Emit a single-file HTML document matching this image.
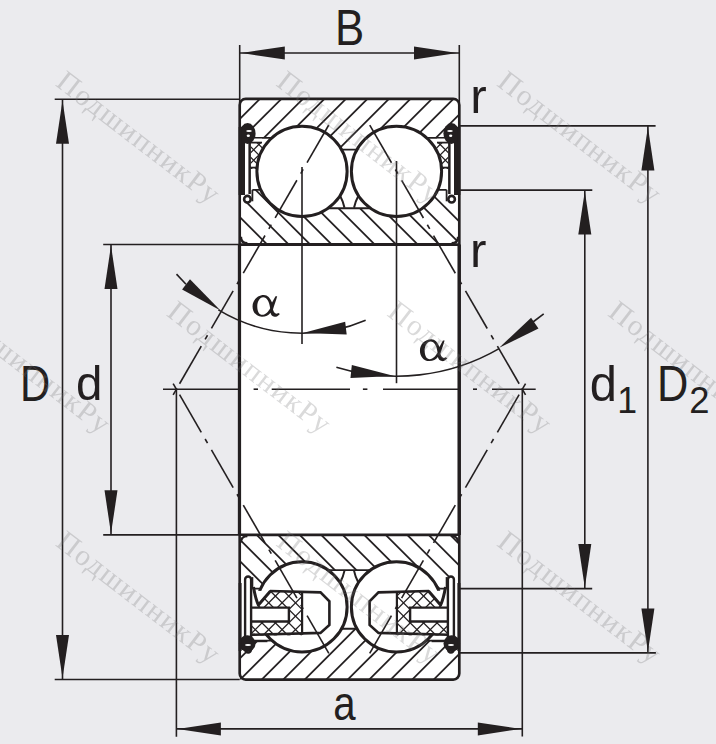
<!DOCTYPE html>
<html><head><meta charset="utf-8"><style>html,body{margin:0;padding:0;background:#ebebee;}svg{display:block}</style></head>
<body><svg width="716" height="744" viewBox="0 0 716 744">
<rect x="0" y="0" width="716" height="744" fill="#ebebee"/>
<rect x="239.7" y="98.9" width="219.6" height="580.7" rx="6" fill="#fff"/>
<defs>
<clipPath id="cto"><path d="M239.7,98.9 H459.3 V137.8 H239.7 Z M330,136.8 H368 V149.6 H330 Z"/></clipPath>
<clipPath id="cti"><path d="M239.7,201.3 H252.4 V189.8 H300 V208.3 H398 V189.8 H446.6 V201.3 H459.3 V244.5 H239.7 Z"/></clipPath>
<clipPath id="cbi"><path d="M239.7,534.9 H459.3 V577.0999999999999 H446.6 V588.5999999999999 H398 V570.0999999999999 H300 V588.5999999999999 H252.4 V577.0999999999999 H239.7 Z"/></clipPath>
<clipPath id="cbo"><path d="M239.7,640.5999999999999 H459.3 V679.6 H239.7 Z M330,628.8 H368 V641.5999999999999 H330 Z"/></clipPath>
</defs>
<g clip-path="url(#cto)">
<line x1="225.8" y1="90" x2="-374.2" y2="690" stroke="#231f20" stroke-width="1.75" stroke-linecap="butt"/>
<line x1="247.3" y1="90" x2="-352.7" y2="690" stroke="#231f20" stroke-width="1.75" stroke-linecap="butt"/>
<line x1="268.8" y1="90" x2="-331.2" y2="690" stroke="#231f20" stroke-width="1.75" stroke-linecap="butt"/>
<line x1="290.3" y1="90" x2="-309.7" y2="690" stroke="#231f20" stroke-width="1.75" stroke-linecap="butt"/>
<line x1="311.8" y1="90" x2="-288.2" y2="690" stroke="#231f20" stroke-width="1.75" stroke-linecap="butt"/>
<line x1="333.3" y1="90" x2="-266.7" y2="690" stroke="#231f20" stroke-width="1.75" stroke-linecap="butt"/>
<line x1="354.8" y1="90" x2="-245.2" y2="690" stroke="#231f20" stroke-width="1.75" stroke-linecap="butt"/>
<line x1="376.3" y1="90" x2="-223.7" y2="690" stroke="#231f20" stroke-width="1.75" stroke-linecap="butt"/>
<line x1="397.8" y1="90" x2="-202.2" y2="690" stroke="#231f20" stroke-width="1.75" stroke-linecap="butt"/>
<line x1="419.3" y1="90" x2="-180.7" y2="690" stroke="#231f20" stroke-width="1.75" stroke-linecap="butt"/>
<line x1="440.8" y1="90" x2="-159.2" y2="690" stroke="#231f20" stroke-width="1.75" stroke-linecap="butt"/>
<line x1="462.3" y1="90" x2="-137.7" y2="690" stroke="#231f20" stroke-width="1.75" stroke-linecap="butt"/>
<line x1="483.8" y1="90" x2="-116.2" y2="690" stroke="#231f20" stroke-width="1.75" stroke-linecap="butt"/>
<line x1="505.3" y1="90" x2="-94.7" y2="690" stroke="#231f20" stroke-width="1.75" stroke-linecap="butt"/>
<line x1="526.8" y1="90" x2="-73.2" y2="690" stroke="#231f20" stroke-width="1.75" stroke-linecap="butt"/>
<line x1="548.3" y1="90" x2="-51.7" y2="690" stroke="#231f20" stroke-width="1.75" stroke-linecap="butt"/>
<line x1="569.8" y1="90" x2="-30.2" y2="690" stroke="#231f20" stroke-width="1.75" stroke-linecap="butt"/>
<line x1="591.3" y1="90" x2="-8.7" y2="690" stroke="#231f20" stroke-width="1.75" stroke-linecap="butt"/>
<line x1="612.8" y1="90" x2="12.8" y2="690" stroke="#231f20" stroke-width="1.75" stroke-linecap="butt"/>
<line x1="634.3" y1="90" x2="34.3" y2="690" stroke="#231f20" stroke-width="1.75" stroke-linecap="butt"/>
<line x1="655.8" y1="90" x2="55.8" y2="690" stroke="#231f20" stroke-width="1.75" stroke-linecap="butt"/>
<line x1="677.3" y1="90" x2="77.3" y2="690" stroke="#231f20" stroke-width="1.75" stroke-linecap="butt"/>
<line x1="698.8" y1="90" x2="98.8" y2="690" stroke="#231f20" stroke-width="1.75" stroke-linecap="butt"/>
<line x1="720.3" y1="90" x2="120.3" y2="690" stroke="#231f20" stroke-width="1.75" stroke-linecap="butt"/>
<line x1="741.8" y1="90" x2="141.8" y2="690" stroke="#231f20" stroke-width="1.75" stroke-linecap="butt"/>
<line x1="763.3" y1="90" x2="163.3" y2="690" stroke="#231f20" stroke-width="1.75" stroke-linecap="butt"/>
<line x1="784.8" y1="90" x2="184.8" y2="690" stroke="#231f20" stroke-width="1.75" stroke-linecap="butt"/>
<line x1="806.3" y1="90" x2="206.3" y2="690" stroke="#231f20" stroke-width="1.75" stroke-linecap="butt"/>
<line x1="827.8" y1="90" x2="227.8" y2="690" stroke="#231f20" stroke-width="1.75" stroke-linecap="butt"/>
<line x1="849.3" y1="90" x2="249.3" y2="690" stroke="#231f20" stroke-width="1.75" stroke-linecap="butt"/>
<line x1="870.8" y1="90" x2="270.8" y2="690" stroke="#231f20" stroke-width="1.75" stroke-linecap="butt"/>
<line x1="892.3" y1="90" x2="292.3" y2="690" stroke="#231f20" stroke-width="1.75" stroke-linecap="butt"/>
<line x1="913.8" y1="90" x2="313.8" y2="690" stroke="#231f20" stroke-width="1.75" stroke-linecap="butt"/>
<line x1="935.3" y1="90" x2="335.3" y2="690" stroke="#231f20" stroke-width="1.75" stroke-linecap="butt"/>
<line x1="956.8" y1="90" x2="356.8" y2="690" stroke="#231f20" stroke-width="1.75" stroke-linecap="butt"/>
<line x1="978.3" y1="90" x2="378.3" y2="690" stroke="#231f20" stroke-width="1.75" stroke-linecap="butt"/>
<line x1="999.8" y1="90" x2="399.8" y2="690" stroke="#231f20" stroke-width="1.75" stroke-linecap="butt"/>
<line x1="1021.3" y1="90" x2="421.3" y2="690" stroke="#231f20" stroke-width="1.75" stroke-linecap="butt"/>
<line x1="1042.8" y1="90" x2="442.8" y2="690" stroke="#231f20" stroke-width="1.75" stroke-linecap="butt"/>
<line x1="1064.3" y1="90" x2="464.3" y2="690" stroke="#231f20" stroke-width="1.75" stroke-linecap="butt"/>
</g>
<g clip-path="url(#cti)">
<line x1="-360.3" y1="90" x2="239.7" y2="690" stroke="#231f20" stroke-width="1.75" stroke-linecap="butt"/>
<line x1="-338.8" y1="90" x2="261.2" y2="690" stroke="#231f20" stroke-width="1.75" stroke-linecap="butt"/>
<line x1="-317.3" y1="90" x2="282.7" y2="690" stroke="#231f20" stroke-width="1.75" stroke-linecap="butt"/>
<line x1="-295.8" y1="90" x2="304.2" y2="690" stroke="#231f20" stroke-width="1.75" stroke-linecap="butt"/>
<line x1="-274.3" y1="90" x2="325.7" y2="690" stroke="#231f20" stroke-width="1.75" stroke-linecap="butt"/>
<line x1="-252.8" y1="90" x2="347.2" y2="690" stroke="#231f20" stroke-width="1.75" stroke-linecap="butt"/>
<line x1="-231.3" y1="90" x2="368.7" y2="690" stroke="#231f20" stroke-width="1.75" stroke-linecap="butt"/>
<line x1="-209.8" y1="90" x2="390.2" y2="690" stroke="#231f20" stroke-width="1.75" stroke-linecap="butt"/>
<line x1="-188.3" y1="90" x2="411.7" y2="690" stroke="#231f20" stroke-width="1.75" stroke-linecap="butt"/>
<line x1="-166.8" y1="90" x2="433.2" y2="690" stroke="#231f20" stroke-width="1.75" stroke-linecap="butt"/>
<line x1="-145.3" y1="90" x2="454.7" y2="690" stroke="#231f20" stroke-width="1.75" stroke-linecap="butt"/>
<line x1="-123.8" y1="90" x2="476.2" y2="690" stroke="#231f20" stroke-width="1.75" stroke-linecap="butt"/>
<line x1="-102.3" y1="90" x2="497.7" y2="690" stroke="#231f20" stroke-width="1.75" stroke-linecap="butt"/>
<line x1="-80.8" y1="90" x2="519.2" y2="690" stroke="#231f20" stroke-width="1.75" stroke-linecap="butt"/>
<line x1="-59.3" y1="90" x2="540.7" y2="690" stroke="#231f20" stroke-width="1.75" stroke-linecap="butt"/>
<line x1="-37.8" y1="90" x2="562.2" y2="690" stroke="#231f20" stroke-width="1.75" stroke-linecap="butt"/>
<line x1="-16.3" y1="90" x2="583.7" y2="690" stroke="#231f20" stroke-width="1.75" stroke-linecap="butt"/>
<line x1="5.2" y1="90" x2="605.2" y2="690" stroke="#231f20" stroke-width="1.75" stroke-linecap="butt"/>
<line x1="26.7" y1="90" x2="626.7" y2="690" stroke="#231f20" stroke-width="1.75" stroke-linecap="butt"/>
<line x1="48.2" y1="90" x2="648.2" y2="690" stroke="#231f20" stroke-width="1.75" stroke-linecap="butt"/>
<line x1="69.7" y1="90" x2="669.7" y2="690" stroke="#231f20" stroke-width="1.75" stroke-linecap="butt"/>
<line x1="91.2" y1="90" x2="691.2" y2="690" stroke="#231f20" stroke-width="1.75" stroke-linecap="butt"/>
<line x1="112.7" y1="90" x2="712.7" y2="690" stroke="#231f20" stroke-width="1.75" stroke-linecap="butt"/>
<line x1="134.2" y1="90" x2="734.2" y2="690" stroke="#231f20" stroke-width="1.75" stroke-linecap="butt"/>
<line x1="155.7" y1="90" x2="755.7" y2="690" stroke="#231f20" stroke-width="1.75" stroke-linecap="butt"/>
<line x1="177.2" y1="90" x2="777.2" y2="690" stroke="#231f20" stroke-width="1.75" stroke-linecap="butt"/>
<line x1="198.7" y1="90" x2="798.7" y2="690" stroke="#231f20" stroke-width="1.75" stroke-linecap="butt"/>
<line x1="220.2" y1="90" x2="820.2" y2="690" stroke="#231f20" stroke-width="1.75" stroke-linecap="butt"/>
<line x1="241.7" y1="90" x2="841.7" y2="690" stroke="#231f20" stroke-width="1.75" stroke-linecap="butt"/>
<line x1="263.2" y1="90" x2="863.2" y2="690" stroke="#231f20" stroke-width="1.75" stroke-linecap="butt"/>
<line x1="284.7" y1="90" x2="884.7" y2="690" stroke="#231f20" stroke-width="1.75" stroke-linecap="butt"/>
<line x1="306.2" y1="90" x2="906.2" y2="690" stroke="#231f20" stroke-width="1.75" stroke-linecap="butt"/>
<line x1="327.7" y1="90" x2="927.7" y2="690" stroke="#231f20" stroke-width="1.75" stroke-linecap="butt"/>
<line x1="349.2" y1="90" x2="949.2" y2="690" stroke="#231f20" stroke-width="1.75" stroke-linecap="butt"/>
<line x1="370.7" y1="90" x2="970.7" y2="690" stroke="#231f20" stroke-width="1.75" stroke-linecap="butt"/>
<line x1="392.2" y1="90" x2="992.2" y2="690" stroke="#231f20" stroke-width="1.75" stroke-linecap="butt"/>
<line x1="413.7" y1="90" x2="1013.7" y2="690" stroke="#231f20" stroke-width="1.75" stroke-linecap="butt"/>
<line x1="435.2" y1="90" x2="1035.2" y2="690" stroke="#231f20" stroke-width="1.75" stroke-linecap="butt"/>
<line x1="456.7" y1="90" x2="1056.7" y2="690" stroke="#231f20" stroke-width="1.75" stroke-linecap="butt"/>
<line x1="478.2" y1="90" x2="1078.2" y2="690" stroke="#231f20" stroke-width="1.75" stroke-linecap="butt"/>
</g>
<g clip-path="url(#cbi)">
<line x1="-381.7" y1="90" x2="218.3" y2="690" stroke="#231f20" stroke-width="1.75" stroke-linecap="butt"/>
<line x1="-360.2" y1="90" x2="239.8" y2="690" stroke="#231f20" stroke-width="1.75" stroke-linecap="butt"/>
<line x1="-338.7" y1="90" x2="261.3" y2="690" stroke="#231f20" stroke-width="1.75" stroke-linecap="butt"/>
<line x1="-317.2" y1="90" x2="282.8" y2="690" stroke="#231f20" stroke-width="1.75" stroke-linecap="butt"/>
<line x1="-295.7" y1="90" x2="304.3" y2="690" stroke="#231f20" stroke-width="1.75" stroke-linecap="butt"/>
<line x1="-274.2" y1="90" x2="325.8" y2="690" stroke="#231f20" stroke-width="1.75" stroke-linecap="butt"/>
<line x1="-252.7" y1="90" x2="347.3" y2="690" stroke="#231f20" stroke-width="1.75" stroke-linecap="butt"/>
<line x1="-231.2" y1="90" x2="368.8" y2="690" stroke="#231f20" stroke-width="1.75" stroke-linecap="butt"/>
<line x1="-209.7" y1="90" x2="390.3" y2="690" stroke="#231f20" stroke-width="1.75" stroke-linecap="butt"/>
<line x1="-188.2" y1="90" x2="411.8" y2="690" stroke="#231f20" stroke-width="1.75" stroke-linecap="butt"/>
<line x1="-166.7" y1="90" x2="433.3" y2="690" stroke="#231f20" stroke-width="1.75" stroke-linecap="butt"/>
<line x1="-145.2" y1="90" x2="454.8" y2="690" stroke="#231f20" stroke-width="1.75" stroke-linecap="butt"/>
<line x1="-123.7" y1="90" x2="476.3" y2="690" stroke="#231f20" stroke-width="1.75" stroke-linecap="butt"/>
<line x1="-102.2" y1="90" x2="497.8" y2="690" stroke="#231f20" stroke-width="1.75" stroke-linecap="butt"/>
<line x1="-80.7" y1="90" x2="519.3" y2="690" stroke="#231f20" stroke-width="1.75" stroke-linecap="butt"/>
<line x1="-59.2" y1="90" x2="540.8" y2="690" stroke="#231f20" stroke-width="1.75" stroke-linecap="butt"/>
<line x1="-37.7" y1="90" x2="562.3" y2="690" stroke="#231f20" stroke-width="1.75" stroke-linecap="butt"/>
<line x1="-16.2" y1="90" x2="583.8" y2="690" stroke="#231f20" stroke-width="1.75" stroke-linecap="butt"/>
<line x1="5.3" y1="90" x2="605.3" y2="690" stroke="#231f20" stroke-width="1.75" stroke-linecap="butt"/>
<line x1="26.8" y1="90" x2="626.8" y2="690" stroke="#231f20" stroke-width="1.75" stroke-linecap="butt"/>
<line x1="48.3" y1="90" x2="648.3" y2="690" stroke="#231f20" stroke-width="1.75" stroke-linecap="butt"/>
<line x1="69.8" y1="90" x2="669.8" y2="690" stroke="#231f20" stroke-width="1.75" stroke-linecap="butt"/>
<line x1="91.3" y1="90" x2="691.3" y2="690" stroke="#231f20" stroke-width="1.75" stroke-linecap="butt"/>
<line x1="112.8" y1="90" x2="712.8" y2="690" stroke="#231f20" stroke-width="1.75" stroke-linecap="butt"/>
<line x1="134.3" y1="90" x2="734.3" y2="690" stroke="#231f20" stroke-width="1.75" stroke-linecap="butt"/>
<line x1="155.8" y1="90" x2="755.8" y2="690" stroke="#231f20" stroke-width="1.75" stroke-linecap="butt"/>
<line x1="177.3" y1="90" x2="777.3" y2="690" stroke="#231f20" stroke-width="1.75" stroke-linecap="butt"/>
<line x1="198.8" y1="90" x2="798.8" y2="690" stroke="#231f20" stroke-width="1.75" stroke-linecap="butt"/>
<line x1="220.3" y1="90" x2="820.3" y2="690" stroke="#231f20" stroke-width="1.75" stroke-linecap="butt"/>
<line x1="241.8" y1="90" x2="841.8" y2="690" stroke="#231f20" stroke-width="1.75" stroke-linecap="butt"/>
<line x1="263.3" y1="90" x2="863.3" y2="690" stroke="#231f20" stroke-width="1.75" stroke-linecap="butt"/>
<line x1="284.8" y1="90" x2="884.8" y2="690" stroke="#231f20" stroke-width="1.75" stroke-linecap="butt"/>
<line x1="306.3" y1="90" x2="906.3" y2="690" stroke="#231f20" stroke-width="1.75" stroke-linecap="butt"/>
<line x1="327.8" y1="90" x2="927.8" y2="690" stroke="#231f20" stroke-width="1.75" stroke-linecap="butt"/>
<line x1="349.3" y1="90" x2="949.3" y2="690" stroke="#231f20" stroke-width="1.75" stroke-linecap="butt"/>
<line x1="370.8" y1="90" x2="970.8" y2="690" stroke="#231f20" stroke-width="1.75" stroke-linecap="butt"/>
<line x1="392.3" y1="90" x2="992.3" y2="690" stroke="#231f20" stroke-width="1.75" stroke-linecap="butt"/>
<line x1="413.8" y1="90" x2="1013.8" y2="690" stroke="#231f20" stroke-width="1.75" stroke-linecap="butt"/>
<line x1="435.3" y1="90" x2="1035.3" y2="690" stroke="#231f20" stroke-width="1.75" stroke-linecap="butt"/>
<line x1="456.8" y1="90" x2="1056.8" y2="690" stroke="#231f20" stroke-width="1.75" stroke-linecap="butt"/>
<line x1="478.3" y1="90" x2="1078.3" y2="690" stroke="#231f20" stroke-width="1.75" stroke-linecap="butt"/>
</g>
<g clip-path="url(#cbo)">
<line x1="227.8" y1="90" x2="-372.2" y2="690" stroke="#231f20" stroke-width="1.75" stroke-linecap="butt"/>
<line x1="249.3" y1="90" x2="-350.7" y2="690" stroke="#231f20" stroke-width="1.75" stroke-linecap="butt"/>
<line x1="270.8" y1="90" x2="-329.2" y2="690" stroke="#231f20" stroke-width="1.75" stroke-linecap="butt"/>
<line x1="292.3" y1="90" x2="-307.7" y2="690" stroke="#231f20" stroke-width="1.75" stroke-linecap="butt"/>
<line x1="313.8" y1="90" x2="-286.2" y2="690" stroke="#231f20" stroke-width="1.75" stroke-linecap="butt"/>
<line x1="335.3" y1="90" x2="-264.7" y2="690" stroke="#231f20" stroke-width="1.75" stroke-linecap="butt"/>
<line x1="356.8" y1="90" x2="-243.2" y2="690" stroke="#231f20" stroke-width="1.75" stroke-linecap="butt"/>
<line x1="378.3" y1="90" x2="-221.7" y2="690" stroke="#231f20" stroke-width="1.75" stroke-linecap="butt"/>
<line x1="399.8" y1="90" x2="-200.2" y2="690" stroke="#231f20" stroke-width="1.75" stroke-linecap="butt"/>
<line x1="421.3" y1="90" x2="-178.7" y2="690" stroke="#231f20" stroke-width="1.75" stroke-linecap="butt"/>
<line x1="442.8" y1="90" x2="-157.2" y2="690" stroke="#231f20" stroke-width="1.75" stroke-linecap="butt"/>
<line x1="464.3" y1="90" x2="-135.7" y2="690" stroke="#231f20" stroke-width="1.75" stroke-linecap="butt"/>
<line x1="485.8" y1="90" x2="-114.2" y2="690" stroke="#231f20" stroke-width="1.75" stroke-linecap="butt"/>
<line x1="507.3" y1="90" x2="-92.7" y2="690" stroke="#231f20" stroke-width="1.75" stroke-linecap="butt"/>
<line x1="528.8" y1="90" x2="-71.2" y2="690" stroke="#231f20" stroke-width="1.75" stroke-linecap="butt"/>
<line x1="550.3" y1="90" x2="-49.7" y2="690" stroke="#231f20" stroke-width="1.75" stroke-linecap="butt"/>
<line x1="571.8" y1="90" x2="-28.2" y2="690" stroke="#231f20" stroke-width="1.75" stroke-linecap="butt"/>
<line x1="593.3" y1="90" x2="-6.7" y2="690" stroke="#231f20" stroke-width="1.75" stroke-linecap="butt"/>
<line x1="614.8" y1="90" x2="14.8" y2="690" stroke="#231f20" stroke-width="1.75" stroke-linecap="butt"/>
<line x1="636.3" y1="90" x2="36.3" y2="690" stroke="#231f20" stroke-width="1.75" stroke-linecap="butt"/>
<line x1="657.8" y1="90" x2="57.8" y2="690" stroke="#231f20" stroke-width="1.75" stroke-linecap="butt"/>
<line x1="679.3" y1="90" x2="79.3" y2="690" stroke="#231f20" stroke-width="1.75" stroke-linecap="butt"/>
<line x1="700.8" y1="90" x2="100.8" y2="690" stroke="#231f20" stroke-width="1.75" stroke-linecap="butt"/>
<line x1="722.3" y1="90" x2="122.3" y2="690" stroke="#231f20" stroke-width="1.75" stroke-linecap="butt"/>
<line x1="743.8" y1="90" x2="143.8" y2="690" stroke="#231f20" stroke-width="1.75" stroke-linecap="butt"/>
<line x1="765.3" y1="90" x2="165.3" y2="690" stroke="#231f20" stroke-width="1.75" stroke-linecap="butt"/>
<line x1="786.8" y1="90" x2="186.8" y2="690" stroke="#231f20" stroke-width="1.75" stroke-linecap="butt"/>
<line x1="808.3" y1="90" x2="208.3" y2="690" stroke="#231f20" stroke-width="1.75" stroke-linecap="butt"/>
<line x1="829.8" y1="90" x2="229.8" y2="690" stroke="#231f20" stroke-width="1.75" stroke-linecap="butt"/>
<line x1="851.3" y1="90" x2="251.3" y2="690" stroke="#231f20" stroke-width="1.75" stroke-linecap="butt"/>
<line x1="872.8" y1="90" x2="272.8" y2="690" stroke="#231f20" stroke-width="1.75" stroke-linecap="butt"/>
<line x1="894.3" y1="90" x2="294.3" y2="690" stroke="#231f20" stroke-width="1.75" stroke-linecap="butt"/>
<line x1="915.8" y1="90" x2="315.8" y2="690" stroke="#231f20" stroke-width="1.75" stroke-linecap="butt"/>
<line x1="937.3" y1="90" x2="337.3" y2="690" stroke="#231f20" stroke-width="1.75" stroke-linecap="butt"/>
<line x1="958.8" y1="90" x2="358.8" y2="690" stroke="#231f20" stroke-width="1.75" stroke-linecap="butt"/>
<line x1="980.3" y1="90" x2="380.3" y2="690" stroke="#231f20" stroke-width="1.75" stroke-linecap="butt"/>
<line x1="1001.8" y1="90" x2="401.8" y2="690" stroke="#231f20" stroke-width="1.75" stroke-linecap="butt"/>
<line x1="1023.3" y1="90" x2="423.3" y2="690" stroke="#231f20" stroke-width="1.75" stroke-linecap="butt"/>
<line x1="1044.8" y1="90" x2="444.8" y2="690" stroke="#231f20" stroke-width="1.75" stroke-linecap="butt"/>
<line x1="1066.3" y1="90" x2="466.3" y2="690" stroke="#231f20" stroke-width="1.75" stroke-linecap="butt"/>
</g>
<line x1="239.7" y1="137.8" x2="275" y2="137.8" stroke="#231f20" stroke-width="1.8" stroke-linecap="butt"/>
<line x1="424" y1="137.8" x2="459.3" y2="137.8" stroke="#231f20" stroke-width="1.8" stroke-linecap="butt"/>
<line x1="330" y1="149.6" x2="368" y2="149.6" stroke="#231f20" stroke-width="1.9" stroke-linecap="butt"/>
<line x1="300" y1="208.3" x2="398" y2="208.3" stroke="#231f20" stroke-width="1.9" stroke-linecap="butt"/>
<line x1="252.4" y1="189.8" x2="300" y2="189.8" stroke="#231f20" stroke-width="1.8" stroke-linecap="butt"/>
<line x1="398" y1="189.8" x2="446.6" y2="189.8" stroke="#231f20" stroke-width="1.8" stroke-linecap="butt"/>
<line x1="252.4" y1="189.8" x2="252.4" y2="201.3" stroke="#231f20" stroke-width="1.8" stroke-linecap="butt"/>
<line x1="446.6" y1="189.8" x2="446.6" y2="201.3" stroke="#231f20" stroke-width="1.8" stroke-linecap="butt"/>
<line x1="239.7" y1="640.6" x2="275" y2="640.6" stroke="#231f20" stroke-width="1.8" stroke-linecap="butt"/>
<line x1="424" y1="640.6" x2="459.3" y2="640.6" stroke="#231f20" stroke-width="1.8" stroke-linecap="butt"/>
<line x1="330" y1="628.8" x2="368" y2="628.8" stroke="#231f20" stroke-width="1.9" stroke-linecap="butt"/>
<line x1="300" y1="570.1" x2="398" y2="570.1" stroke="#231f20" stroke-width="1.9" stroke-linecap="butt"/>
<line x1="252.4" y1="588.6" x2="300" y2="588.6" stroke="#231f20" stroke-width="1.8" stroke-linecap="butt"/>
<line x1="398" y1="588.6" x2="446.6" y2="588.6" stroke="#231f20" stroke-width="1.8" stroke-linecap="butt"/>
<line x1="252.4" y1="588.6" x2="252.4" y2="577.1" stroke="#231f20" stroke-width="1.8" stroke-linecap="butt"/>
<line x1="446.6" y1="588.6" x2="446.6" y2="577.1" stroke="#231f20" stroke-width="1.8" stroke-linecap="butt"/>
<rect x="241" y="138.7" width="21" height="50.2" fill="#fff"/>
<clipPath id="xh1"><rect x="250.8" y="142.6" width="12.2" height="26.4"/></clipPath>
<g clip-path="url(#xh1)">
<line x1="241.7" y1="140.6" x2="211.3" y2="171" stroke="#231f20" stroke-width="1.3" stroke-linecap="butt"/>
<line x1="252.2" y1="140.6" x2="221.8" y2="171" stroke="#231f20" stroke-width="1.3" stroke-linecap="butt"/>
<line x1="262.7" y1="140.6" x2="232.3" y2="171" stroke="#231f20" stroke-width="1.3" stroke-linecap="butt"/>
<line x1="273.2" y1="140.6" x2="242.8" y2="171" stroke="#231f20" stroke-width="1.3" stroke-linecap="butt"/>
<line x1="283.7" y1="140.6" x2="253.3" y2="171" stroke="#231f20" stroke-width="1.3" stroke-linecap="butt"/>
<line x1="294.2" y1="140.6" x2="263.8" y2="171" stroke="#231f20" stroke-width="1.3" stroke-linecap="butt"/>
<line x1="202.5" y1="140.6" x2="232.9" y2="171" stroke="#231f20" stroke-width="1.3" stroke-linecap="butt"/>
<line x1="213" y1="140.6" x2="243.4" y2="171" stroke="#231f20" stroke-width="1.3" stroke-linecap="butt"/>
<line x1="223.5" y1="140.6" x2="253.9" y2="171" stroke="#231f20" stroke-width="1.3" stroke-linecap="butt"/>
<line x1="234" y1="140.6" x2="264.4" y2="171" stroke="#231f20" stroke-width="1.3" stroke-linecap="butt"/>
<line x1="244.5" y1="140.6" x2="274.9" y2="171" stroke="#231f20" stroke-width="1.3" stroke-linecap="butt"/>
<line x1="255" y1="140.6" x2="285.4" y2="171" stroke="#231f20" stroke-width="1.3" stroke-linecap="butt"/>
<line x1="265.5" y1="140.6" x2="295.9" y2="171" stroke="#231f20" stroke-width="1.3" stroke-linecap="butt"/>
</g>
<rect x="437" y="138.7" width="21" height="50.2" fill="#fff"/>
<clipPath id="xh2"><rect x="436" y="142.6" width="12.2" height="26.4"/></clipPath>
<g clip-path="url(#xh2)">
<line x1="423" y1="140.6" x2="392.6" y2="171" stroke="#231f20" stroke-width="1.3" stroke-linecap="butt"/>
<line x1="433.5" y1="140.6" x2="403.1" y2="171" stroke="#231f20" stroke-width="1.3" stroke-linecap="butt"/>
<line x1="444" y1="140.6" x2="413.6" y2="171" stroke="#231f20" stroke-width="1.3" stroke-linecap="butt"/>
<line x1="454.5" y1="140.6" x2="424.1" y2="171" stroke="#231f20" stroke-width="1.3" stroke-linecap="butt"/>
<line x1="465" y1="140.6" x2="434.6" y2="171" stroke="#231f20" stroke-width="1.3" stroke-linecap="butt"/>
<line x1="475.5" y1="140.6" x2="445.1" y2="171" stroke="#231f20" stroke-width="1.3" stroke-linecap="butt"/>
<line x1="486" y1="140.6" x2="455.6" y2="171" stroke="#231f20" stroke-width="1.3" stroke-linecap="butt"/>
<line x1="394.3" y1="140.6" x2="424.7" y2="171" stroke="#231f20" stroke-width="1.3" stroke-linecap="butt"/>
<line x1="404.8" y1="140.6" x2="435.2" y2="171" stroke="#231f20" stroke-width="1.3" stroke-linecap="butt"/>
<line x1="415.3" y1="140.6" x2="445.7" y2="171" stroke="#231f20" stroke-width="1.3" stroke-linecap="butt"/>
<line x1="425.8" y1="140.6" x2="456.2" y2="171" stroke="#231f20" stroke-width="1.3" stroke-linecap="butt"/>
<line x1="436.3" y1="140.6" x2="466.7" y2="171" stroke="#231f20" stroke-width="1.3" stroke-linecap="butt"/>
<line x1="446.8" y1="140.6" x2="477.2" y2="171" stroke="#231f20" stroke-width="1.3" stroke-linecap="butt"/>
</g>
<circle cx="302.0" cy="171.4" r="45.1" fill="#fff" stroke="#231f20" stroke-width="3"/>
<circle cx="396.5" cy="171.4" r="45.1" fill="#fff" stroke="#231f20" stroke-width="3"/>
<circle cx="302.0" cy="606.9" r="45.1" fill="#fff" stroke="#231f20" stroke-width="3"/>
<circle cx="396.5" cy="606.9" r="45.1" fill="#fff" stroke="#231f20" stroke-width="3"/>
<rect x="238.6" y="127" width="6.4" height="68" fill="#231f20"/>
<rect x="248.4" y="141.5" width="2.5" height="52.5" fill="#231f20"/>
<line x1="250" y1="142.6" x2="262" y2="142.6" stroke="#231f20" stroke-width="1.8" stroke-linecap="butt"/>
<ellipse cx="247.6" cy="133.5" rx="8" ry="10.4" fill="#231f20"/>
<ellipse cx="249" cy="131" rx="2.8" ry="1.1" fill="#fff"/>
<ellipse cx="248.3" cy="135.8" rx="1.6" ry="1.3" fill="#fff"/>
<line x1="250" y1="167.6" x2="257.5" y2="167.6" stroke="#231f20" stroke-width="1.8" stroke-linecap="butt"/>
<circle cx="247.4" cy="199.2" r="3.3" fill="#fff" stroke="#231f20" stroke-width="2.6"/>
<rect x="454" y="127" width="6.4" height="68" fill="#231f20"/>
<rect x="448.1" y="141.5" width="2.5" height="52.5" fill="#231f20"/>
<line x1="449" y1="142.6" x2="437" y2="142.6" stroke="#231f20" stroke-width="1.8" stroke-linecap="butt"/>
<ellipse cx="451.4" cy="133.5" rx="8" ry="10.4" fill="#231f20"/>
<ellipse cx="450" cy="131" rx="2.8" ry="1.1" fill="#fff"/>
<ellipse cx="450.7" cy="135.8" rx="1.6" ry="1.3" fill="#fff"/>
<line x1="449" y1="167.6" x2="441.5" y2="167.6" stroke="#231f20" stroke-width="1.8" stroke-linecap="butt"/>
<circle cx="451.6" cy="199.2" r="3.3" fill="#fff" stroke="#231f20" stroke-width="2.6"/>
<path d="M344.5,207.8 Q343.2,201.5 340.2,196" fill="none" stroke="#231f20" stroke-width="2.0" />
<path d="M354,207.8 Q355.3,201.5 358.3,196" fill="none" stroke="#231f20" stroke-width="2.0" />
<path d="M344.5,570.6 Q343.2,576.9 340.2,582.4" fill="none" stroke="#231f20" stroke-width="2.0" />
<path d="M354,570.6 Q355.3,576.9 358.3,582.4" fill="none" stroke="#231f20" stroke-width="2.0" />
<polygon points="250.5,590.6 320.5,592.4 329.4,601.3 329.4,624.9 320.5,632.9 250.5,635.5" fill="#fff"/>
<clipPath id="xh3"><polygon points="270.1,590.5 302.1,592.4 302.1,635.2 250.5,635.5 250.5,608.2 256.3,608.2"/></clipPath>
<g clip-path="url(#xh3)">
<line x1="229.9" y1="588" x2="180.4" y2="637.5" stroke="#231f20" stroke-width="1.3" stroke-linecap="butt"/>
<line x1="243.3" y1="588" x2="193.8" y2="637.5" stroke="#231f20" stroke-width="1.3" stroke-linecap="butt"/>
<line x1="256.7" y1="588" x2="207.2" y2="637.5" stroke="#231f20" stroke-width="1.3" stroke-linecap="butt"/>
<line x1="270.1" y1="588" x2="220.6" y2="637.5" stroke="#231f20" stroke-width="1.3" stroke-linecap="butt"/>
<line x1="283.5" y1="588" x2="234" y2="637.5" stroke="#231f20" stroke-width="1.3" stroke-linecap="butt"/>
<line x1="296.9" y1="588" x2="247.4" y2="637.5" stroke="#231f20" stroke-width="1.3" stroke-linecap="butt"/>
<line x1="310.3" y1="588" x2="260.8" y2="637.5" stroke="#231f20" stroke-width="1.3" stroke-linecap="butt"/>
<line x1="323.7" y1="588" x2="274.2" y2="637.5" stroke="#231f20" stroke-width="1.3" stroke-linecap="butt"/>
<line x1="337.1" y1="588" x2="287.6" y2="637.5" stroke="#231f20" stroke-width="1.3" stroke-linecap="butt"/>
<line x1="350.5" y1="588" x2="301" y2="637.5" stroke="#231f20" stroke-width="1.3" stroke-linecap="butt"/>
<line x1="186.9" y1="588" x2="236.4" y2="637.5" stroke="#231f20" stroke-width="1.3" stroke-linecap="butt"/>
<line x1="200.3" y1="588" x2="249.8" y2="637.5" stroke="#231f20" stroke-width="1.3" stroke-linecap="butt"/>
<line x1="213.7" y1="588" x2="263.2" y2="637.5" stroke="#231f20" stroke-width="1.3" stroke-linecap="butt"/>
<line x1="227.1" y1="588" x2="276.6" y2="637.5" stroke="#231f20" stroke-width="1.3" stroke-linecap="butt"/>
<line x1="240.5" y1="588" x2="290" y2="637.5" stroke="#231f20" stroke-width="1.3" stroke-linecap="butt"/>
<line x1="253.9" y1="588" x2="303.4" y2="637.5" stroke="#231f20" stroke-width="1.3" stroke-linecap="butt"/>
<line x1="267.3" y1="588" x2="316.8" y2="637.5" stroke="#231f20" stroke-width="1.3" stroke-linecap="butt"/>
<line x1="280.7" y1="588" x2="330.2" y2="637.5" stroke="#231f20" stroke-width="1.3" stroke-linecap="butt"/>
<line x1="294.1" y1="588" x2="343.6" y2="637.5" stroke="#231f20" stroke-width="1.3" stroke-linecap="butt"/>
<line x1="307.5" y1="588" x2="357" y2="637.5" stroke="#231f20" stroke-width="1.3" stroke-linecap="butt"/>
</g>
<polygon points="250.5,607.6 288.9,607.6 288.9,621.5 250.5,621.5" fill="#fff"/>
<polyline points="250.5,607.6 288.9,607.6 288.9,621.5 250.5,621.5" fill="none" stroke="#231f20" stroke-width="2.4"/>
<polyline points="269.9,591 320.5,592.4 329.4,601.3 329.4,624.9 320.5,632.9 250.5,634.8" fill="none" stroke="#231f20" stroke-width="2.6"/>
<line x1="302.1" y1="592.4" x2="302.1" y2="634.8" stroke="#231f20" stroke-width="2.2" stroke-linecap="butt"/>
<path d="M253.5,587 Q255.5,599 258.4,605 L270.5,591" fill="none" stroke="#231f20" stroke-width="3.0" stroke-linejoin="round"/>
<rect x="245.1" y="576.5" width="6" height="76" rx="3" fill="#fff" stroke="#231f20" stroke-width="2.4"/>
<rect x="238.6" y="583" width="3" height="68" fill="#231f20"/>
<circle cx="247.2" cy="643.5" r="8.3" fill="#231f20"/>
<ellipse cx="248" cy="645" rx="3" ry="1.1" fill="#fff"/>
<line x1="252" y1="641.3" x2="267.4" y2="641.3" stroke="#231f20" stroke-width="1.8" stroke-linecap="butt"/>
<polygon points="448.5,590.6 378.5,592.4 369.6,601.3 369.6,624.9 378.5,632.9 448.5,635.5" fill="#fff"/>
<clipPath id="xh4"><polygon points="428.9,590.5 396.9,592.4 396.9,635.2 448.5,635.5 448.5,608.2 442.7,608.2"/></clipPath>
<g clip-path="url(#xh4)">
<line x1="378.1" y1="588" x2="328.6" y2="637.5" stroke="#231f20" stroke-width="1.3" stroke-linecap="butt"/>
<line x1="391.5" y1="588" x2="342" y2="637.5" stroke="#231f20" stroke-width="1.3" stroke-linecap="butt"/>
<line x1="404.9" y1="588" x2="355.4" y2="637.5" stroke="#231f20" stroke-width="1.3" stroke-linecap="butt"/>
<line x1="418.3" y1="588" x2="368.8" y2="637.5" stroke="#231f20" stroke-width="1.3" stroke-linecap="butt"/>
<line x1="431.7" y1="588" x2="382.2" y2="637.5" stroke="#231f20" stroke-width="1.3" stroke-linecap="butt"/>
<line x1="445.1" y1="588" x2="395.6" y2="637.5" stroke="#231f20" stroke-width="1.3" stroke-linecap="butt"/>
<line x1="458.5" y1="588" x2="409" y2="637.5" stroke="#231f20" stroke-width="1.3" stroke-linecap="butt"/>
<line x1="471.9" y1="588" x2="422.4" y2="637.5" stroke="#231f20" stroke-width="1.3" stroke-linecap="butt"/>
<line x1="485.3" y1="588" x2="435.8" y2="637.5" stroke="#231f20" stroke-width="1.3" stroke-linecap="butt"/>
<line x1="498.7" y1="588" x2="449.2" y2="637.5" stroke="#231f20" stroke-width="1.3" stroke-linecap="butt"/>
<line x1="335.1" y1="588" x2="384.6" y2="637.5" stroke="#231f20" stroke-width="1.3" stroke-linecap="butt"/>
<line x1="348.5" y1="588" x2="398" y2="637.5" stroke="#231f20" stroke-width="1.3" stroke-linecap="butt"/>
<line x1="361.9" y1="588" x2="411.4" y2="637.5" stroke="#231f20" stroke-width="1.3" stroke-linecap="butt"/>
<line x1="375.3" y1="588" x2="424.8" y2="637.5" stroke="#231f20" stroke-width="1.3" stroke-linecap="butt"/>
<line x1="388.7" y1="588" x2="438.2" y2="637.5" stroke="#231f20" stroke-width="1.3" stroke-linecap="butt"/>
<line x1="402.1" y1="588" x2="451.6" y2="637.5" stroke="#231f20" stroke-width="1.3" stroke-linecap="butt"/>
<line x1="415.5" y1="588" x2="465" y2="637.5" stroke="#231f20" stroke-width="1.3" stroke-linecap="butt"/>
<line x1="428.9" y1="588" x2="478.4" y2="637.5" stroke="#231f20" stroke-width="1.3" stroke-linecap="butt"/>
<line x1="442.3" y1="588" x2="491.8" y2="637.5" stroke="#231f20" stroke-width="1.3" stroke-linecap="butt"/>
<line x1="455.7" y1="588" x2="505.2" y2="637.5" stroke="#231f20" stroke-width="1.3" stroke-linecap="butt"/>
</g>
<polygon points="448.5,607.6 410.1,607.6 410.1,621.5 448.5,621.5" fill="#fff"/>
<polyline points="448.5,607.6 410.1,607.6 410.1,621.5 448.5,621.5" fill="none" stroke="#231f20" stroke-width="2.4"/>
<polyline points="429.1,591 378.5,592.4 369.6,601.3 369.6,624.9 378.5,632.9 448.5,634.8" fill="none" stroke="#231f20" stroke-width="2.6"/>
<line x1="396.9" y1="592.4" x2="396.9" y2="634.8" stroke="#231f20" stroke-width="2.2" stroke-linecap="butt"/>
<path d="M445.5,587 Q443.5,599 440.6,605 L428.5,591" fill="none" stroke="#231f20" stroke-width="3.0" stroke-linejoin="round"/>
<rect x="447.9" y="576.5" width="6" height="76" rx="3" fill="#fff" stroke="#231f20" stroke-width="2.4"/>
<rect x="457.4" y="583" width="3" height="68" fill="#231f20"/>
<circle cx="451.8" cy="643.5" r="8.3" fill="#231f20"/>
<ellipse cx="451" cy="645" rx="3" ry="1.1" fill="#fff"/>
<line x1="447" y1="641.3" x2="431.6" y2="641.3" stroke="#231f20" stroke-width="1.8" stroke-linecap="butt"/>
<line x1="239.7" y1="244.5" x2="459.3" y2="244.5" stroke="#231f20" stroke-width="2.8" stroke-linecap="butt"/>
<line x1="239.7" y1="534.9" x2="459.3" y2="534.9" stroke="#231f20" stroke-width="2.8" stroke-linecap="butt"/>
<rect x="239.7" y="98.9" width="219.6" height="580.7" rx="6" fill="none" stroke="#231f20" stroke-width="2.7"/>
<line x1="239.45" y1="244.5" x2="239.45" y2="534.9" stroke="#231f20" stroke-width="3.2" stroke-linecap="butt"/>
<line x1="459.2" y1="244.5" x2="459.2" y2="534.9" stroke="#231f20" stroke-width="3.4" stroke-linecap="butt"/>
<path d="M240.9,236.8 Q240.9,243.3 247.4,243.3 L240.9,243.3 Z" fill="#fff"/>
<path d="M240.9,236.8 Q240.9,243.3 247.4,243.3" fill="none" stroke="#231f20" stroke-width="2.4" />
<path d="M458.1,236.8 Q458.1,243.3 451.6,243.3 L458.1,243.3 Z" fill="#fff"/>
<path d="M458.1,236.8 Q458.1,243.3 451.6,243.3" fill="none" stroke="#231f20" stroke-width="2.4" />
<path d="M240.9,542.6 Q240.9,536.1 247.4,536.1 L240.9,536.1 Z" fill="#fff"/>
<path d="M240.9,542.6 Q240.9,536.1 247.4,536.1" fill="none" stroke="#231f20" stroke-width="2.4" />
<path d="M458.1,542.6 Q458.1,536.1 451.6,536.1 L458.1,536.1 Z" fill="#fff"/>
<path d="M458.1,542.6 Q458.1,536.1 451.6,536.1" fill="none" stroke="#231f20" stroke-width="2.4" />
<line x1="239.7" y1="45" x2="239.7" y2="102.9" stroke="#231f20" stroke-width="1.6" stroke-linecap="butt"/>
<line x1="459.3" y1="45" x2="459.3" y2="102.9" stroke="#231f20" stroke-width="1.6" stroke-linecap="butt"/>
<line x1="239.7" y1="53" x2="459.3" y2="53" stroke="#231f20" stroke-width="1.6" stroke-linecap="butt"/>
<polygon points="241.5,53 284.8,46.5 284.8,59.5" fill="#231f20"/>
<polygon points="457.3,53 414,59.5 414,46.5" fill="#231f20"/>
<line x1="54.7" y1="99.2" x2="239.7" y2="99.2" stroke="#231f20" stroke-width="1.6" stroke-linecap="butt"/>
<line x1="54.7" y1="679.5" x2="239.7" y2="679.5" stroke="#231f20" stroke-width="1.6" stroke-linecap="butt"/>
<line x1="62.5" y1="99.2" x2="62.5" y2="679.5" stroke="#231f20" stroke-width="1.6" stroke-linecap="butt"/>
<polygon points="62.5,100.4 69,143.7 56,143.7" fill="#231f20"/>
<polygon points="62.5,678.3 56,635 69,635" fill="#231f20"/>
<line x1="103.2" y1="244.5" x2="239.7" y2="244.5" stroke="#231f20" stroke-width="1.6" stroke-linecap="butt"/>
<line x1="103.2" y1="534.9" x2="239.7" y2="534.9" stroke="#231f20" stroke-width="1.6" stroke-linecap="butt"/>
<line x1="111" y1="244.5" x2="111" y2="534.9" stroke="#231f20" stroke-width="1.6" stroke-linecap="butt"/>
<polygon points="111,245.6 117.5,288.9 104.5,288.9" fill="#231f20"/>
<polygon points="111,533.6 104.5,490.3 117.5,490.3" fill="#231f20"/>
<line x1="459.3" y1="190.1" x2="592.3" y2="190.1" stroke="#231f20" stroke-width="1.6" stroke-linecap="butt"/>
<line x1="459.3" y1="588.6" x2="592.2" y2="588.6" stroke="#231f20" stroke-width="1.6" stroke-linecap="butt"/>
<line x1="584.8" y1="190.1" x2="584.8" y2="588.6" stroke="#231f20" stroke-width="1.6" stroke-linecap="butt"/>
<polygon points="584.8,191.3 591.3,234.6 578.3,234.6" fill="#231f20"/>
<polygon points="584.8,587.4 578.3,544.1 591.3,544.1" fill="#231f20"/>
<line x1="459.3" y1="125.9" x2="655.6" y2="125.9" stroke="#231f20" stroke-width="1.6" stroke-linecap="butt"/>
<line x1="459.3" y1="652.9" x2="655.9" y2="652.9" stroke="#231f20" stroke-width="1.6" stroke-linecap="butt"/>
<line x1="647.9" y1="125.9" x2="647.9" y2="652.9" stroke="#231f20" stroke-width="1.6" stroke-linecap="butt"/>
<polygon points="647.9,127.1 654.4,170.4 641.4,170.4" fill="#231f20"/>
<polygon points="647.9,651.7 641.4,608.4 654.4,608.4" fill="#231f20"/>
<line x1="176.4" y1="389.2" x2="176.4" y2="736.7" stroke="#231f20" stroke-width="1.6" stroke-linecap="butt"/>
<line x1="522.3" y1="389.2" x2="522.3" y2="736.5" stroke="#231f20" stroke-width="1.6" stroke-linecap="butt"/>
<line x1="176.4" y1="728.9" x2="522.3" y2="728.9" stroke="#231f20" stroke-width="1.6" stroke-linecap="butt"/>
<polygon points="177.6,728.9 220.9,722.4 220.9,735.4" fill="#231f20"/>
<polygon points="521.1,728.9 477.8,735.4 477.8,722.4" fill="#231f20"/>
<line x1="163" y1="389.2" x2="238.5" y2="389.2" stroke="#231f20" stroke-width="1.6" stroke-linecap="butt"/>
<line x1="253.6" y1="389.2" x2="258" y2="389.2" stroke="#231f20" stroke-width="1.6" stroke-linecap="butt"/>
<line x1="271.7" y1="389.2" x2="350" y2="389.2" stroke="#231f20" stroke-width="1.6" stroke-linecap="butt"/>
<line x1="362.9" y1="389.2" x2="367.4" y2="389.2" stroke="#231f20" stroke-width="1.6" stroke-linecap="butt"/>
<line x1="383" y1="389.2" x2="458.5" y2="389.2" stroke="#231f20" stroke-width="1.6" stroke-linecap="butt"/>
<line x1="473" y1="389.2" x2="477" y2="389.2" stroke="#231f20" stroke-width="1.6" stroke-linecap="butt"/>
<line x1="492" y1="389.2" x2="535.7" y2="389.2" stroke="#231f20" stroke-width="1.6" stroke-linecap="butt"/>
<line x1="302" y1="166.9" x2="302" y2="344" stroke="#231f20" stroke-width="1.6" stroke-linecap="butt"/>
<line x1="396.5" y1="161" x2="396.5" y2="383.2" stroke="#231f20" stroke-width="1.6" stroke-linecap="butt"/>
<line x1="173.15" y1="394.83" x2="176.9" y2="388.33" stroke="#231f20" stroke-width="1.6" stroke-linecap="butt"/>
<line x1="179.55" y1="383.74" x2="201.28" y2="346.06" stroke="#231f20" stroke-width="1.6" stroke-linecap="butt"/>
<line x1="205.12" y1="339.39" x2="207.52" y2="335.23" stroke="#231f20" stroke-width="1.6" stroke-linecap="butt"/>
<line x1="211.42" y1="328.47" x2="233.15" y2="290.79" stroke="#231f20" stroke-width="1.6" stroke-linecap="butt"/>
<line x1="237" y1="284.12" x2="239.39" y2="279.96" stroke="#231f20" stroke-width="1.6" stroke-linecap="butt"/>
<line x1="243.29" y1="273.21" x2="265.02" y2="235.52" stroke="#231f20" stroke-width="1.6" stroke-linecap="butt"/>
<line x1="268.87" y1="228.85" x2="271.27" y2="224.69" stroke="#231f20" stroke-width="1.6" stroke-linecap="butt"/>
<line x1="275.16" y1="217.94" x2="296.89" y2="180.25" stroke="#231f20" stroke-width="1.6" stroke-linecap="butt"/>
<line x1="300.74" y1="173.58" x2="303.14" y2="169.43" stroke="#231f20" stroke-width="1.6" stroke-linecap="butt"/>
<line x1="307.04" y1="162.67" x2="328.77" y2="124.99" stroke="#231f20" stroke-width="1.6" stroke-linecap="butt"/>
<line x1="525.55" y1="394.83" x2="521.8" y2="388.33" stroke="#231f20" stroke-width="1.6" stroke-linecap="butt"/>
<line x1="519.15" y1="383.74" x2="497.39" y2="346.08" stroke="#231f20" stroke-width="1.6" stroke-linecap="butt"/>
<line x1="493.54" y1="339.41" x2="491.14" y2="335.25" stroke="#231f20" stroke-width="1.6" stroke-linecap="butt"/>
<line x1="487.24" y1="328.5" x2="465.48" y2="290.83" stroke="#231f20" stroke-width="1.6" stroke-linecap="butt"/>
<line x1="461.63" y1="284.16" x2="459.23" y2="280.01" stroke="#231f20" stroke-width="1.6" stroke-linecap="butt"/>
<line x1="455.33" y1="273.25" x2="433.57" y2="235.58" stroke="#231f20" stroke-width="1.6" stroke-linecap="butt"/>
<line x1="429.72" y1="228.92" x2="427.32" y2="224.76" stroke="#231f20" stroke-width="1.6" stroke-linecap="butt"/>
<line x1="423.42" y1="218" x2="401.66" y2="180.34" stroke="#231f20" stroke-width="1.6" stroke-linecap="butt"/>
<line x1="397.81" y1="173.67" x2="395.41" y2="169.51" stroke="#231f20" stroke-width="1.6" stroke-linecap="butt"/>
<line x1="391.51" y1="162.76" x2="369.75" y2="125.09" stroke="#231f20" stroke-width="1.6" stroke-linecap="butt"/>
<line x1="173.15" y1="383.57" x2="176.9" y2="390.07" stroke="#231f20" stroke-width="1.6" stroke-linecap="butt"/>
<line x1="179.55" y1="394.66" x2="201.29" y2="432.34" stroke="#231f20" stroke-width="1.6" stroke-linecap="butt"/>
<line x1="205.13" y1="439.01" x2="207.53" y2="443.16" stroke="#231f20" stroke-width="1.6" stroke-linecap="butt"/>
<line x1="211.43" y1="449.92" x2="233.17" y2="487.6" stroke="#231f20" stroke-width="1.6" stroke-linecap="butt"/>
<line x1="237.02" y1="494.27" x2="239.42" y2="498.43" stroke="#231f20" stroke-width="1.6" stroke-linecap="butt"/>
<line x1="243.31" y1="505.18" x2="265.05" y2="542.86" stroke="#231f20" stroke-width="1.6" stroke-linecap="butt"/>
<line x1="268.9" y1="549.53" x2="271.3" y2="553.69" stroke="#231f20" stroke-width="1.6" stroke-linecap="butt"/>
<line x1="275.2" y1="560.44" x2="296.94" y2="598.12" stroke="#231f20" stroke-width="1.6" stroke-linecap="butt"/>
<line x1="300.78" y1="604.79" x2="303.18" y2="608.95" stroke="#231f20" stroke-width="1.6" stroke-linecap="butt"/>
<line x1="307.08" y1="615.71" x2="328.82" y2="653.38" stroke="#231f20" stroke-width="1.6" stroke-linecap="butt"/>
<line x1="525.55" y1="383.57" x2="521.8" y2="390.07" stroke="#231f20" stroke-width="1.6" stroke-linecap="butt"/>
<line x1="519.15" y1="394.65" x2="497.38" y2="432.32" stroke="#231f20" stroke-width="1.6" stroke-linecap="butt"/>
<line x1="493.53" y1="438.99" x2="491.13" y2="443.14" stroke="#231f20" stroke-width="1.6" stroke-linecap="butt"/>
<line x1="487.23" y1="449.89" x2="465.46" y2="487.56" stroke="#231f20" stroke-width="1.6" stroke-linecap="butt"/>
<line x1="461.61" y1="494.23" x2="459.21" y2="498.38" stroke="#231f20" stroke-width="1.6" stroke-linecap="butt"/>
<line x1="455.31" y1="505.14" x2="433.54" y2="542.8" stroke="#231f20" stroke-width="1.6" stroke-linecap="butt"/>
<line x1="429.69" y1="549.47" x2="427.29" y2="553.62" stroke="#231f20" stroke-width="1.6" stroke-linecap="butt"/>
<line x1="423.38" y1="560.38" x2="401.62" y2="598.04" stroke="#231f20" stroke-width="1.6" stroke-linecap="butt"/>
<line x1="397.77" y1="604.71" x2="395.37" y2="608.86" stroke="#231f20" stroke-width="1.6" stroke-linecap="butt"/>
<line x1="391.46" y1="615.62" x2="369.7" y2="653.28" stroke="#231f20" stroke-width="1.6" stroke-linecap="butt"/>
<path d="M218.39,309.92 A161.8,161.8 0 0 0 365.66,320.15" fill="none" stroke="#231f20" stroke-width="1.6"/>
<polygon points="220.5,310.6 182.1,289.56 189.98,279.21" fill="#231f20"/>
<line x1="176.5" y1="274.1" x2="186" y2="284.3" stroke="#231f20" stroke-width="1.6" stroke-linecap="butt"/>
<polygon points="302.9,333 345.19,321.66 346.66,334.58" fill="#231f20"/>
<path d="M499.09,348.65 A204.8,204.8 0 0 1 336.38,367.18" fill="none" stroke="#231f20" stroke-width="1.6"/>
<polygon points="394.2,376.1 350.46,377.98 351.83,365.05" fill="#231f20"/>
<polygon points="499.2,347.8 531.06,317.77 538.48,328.45" fill="#231f20"/>
<line x1="543.7" y1="313.8" x2="533" y2="322" stroke="#231f20" stroke-width="1.6" stroke-linecap="butt"/>
<text transform="translate(335,44.8) scale(0.877,1)" x="0" y="0" font-family="Liberation Sans" font-size="49.9" fill="#231f20">B</text>
<text transform="translate(19.9,400.6) scale(0.851,1)" x="0" y="0" font-family="Liberation Sans" font-size="49.2" fill="#231f20">D</text>
<text transform="translate(75.9,400.4) scale(0.974,1)" x="0" y="0" font-family="Liberation Sans" font-size="48.8" fill="#231f20">d</text>
<text transform="translate(589.7,401) scale(0.969,1)" x="0" y="0" font-family="Liberation Sans" font-size="50.5" fill="#231f20">d</text>
<text transform="translate(617.2,412.7) scale(0.965,1)" x="0" y="0" font-family="Liberation Sans" font-size="37" fill="#231f20">1</text>
<text transform="translate(657.1,401.3) scale(0.882,1)" x="0" y="0" font-family="Liberation Sans" font-size="49.2" fill="#231f20">D</text>
<text transform="translate(689.2,412.7) scale(0.99,1)" x="0" y="0" font-family="Liberation Sans" font-size="36.8" fill="#231f20">2</text>
<text transform="translate(333.2,720) scale(0.843,1)" x="0" y="0" font-family="Liberation Sans" font-size="47.7" fill="#231f20">a</text>
<text transform="translate(470.2,112.8) scale(1.03,1)" x="0" y="0" font-family="Liberation Sans" font-size="48" fill="#231f20">r</text>
<text transform="translate(469.9,267) scale(1.03,1)" x="0" y="0" font-family="Liberation Sans" font-size="48" fill="#231f20">r</text>
<path transform="translate(245,285) scale(0.06289)" d="M300,160 C360,160 400,210 430,280 L485,180 L512,180 C490,260 460,340 445,390 C460,450 490,470 530,445 L555,462 C520,500 490,510 470,505 C430,500 415,470 405,440 C375,480 330,505 270,505 C170,505 120,420 120,340 C120,240 200,160 300,160 Z M290,195 C230,195 195,270 195,340 C195,420 230,475 275,475 C330,475 375,420 400,370 C385,260 350,195 290,195 Z" fill="#231f20" fill-rule="evenodd"/>
<path transform="translate(412.4,329.3) scale(0.06289)" d="M300,160 C360,160 400,210 430,280 L485,180 L512,180 C490,260 460,340 445,390 C460,450 490,470 530,445 L555,462 C520,500 490,510 470,505 C430,500 415,470 405,440 C375,480 330,505 270,505 C170,505 120,420 120,340 C120,240 200,160 300,160 Z M290,195 C230,195 195,270 195,340 C195,420 230,475 275,475 C330,475 375,420 400,370 C385,260 350,195 290,195 Z" fill="#231f20" fill-rule="evenodd"/>
<g opacity="0.27" fill="#747476">
<text x="0" y="0" transform="translate(54.4,85.1) rotate(37.5)" font-family="Liberation Serif" font-size="29.5" letter-spacing="1.5">ПодшипникРу</text>
<text x="0" y="0" transform="translate(275.1,85.1) rotate(37.5)" font-family="Liberation Serif" font-size="29.5" letter-spacing="1.5">ПодшипникРу</text>
<text x="0" y="0" transform="translate(495.8,85.1) rotate(37.5)" font-family="Liberation Serif" font-size="29.5" letter-spacing="1.5">ПодшипникРу</text>
<text x="0" y="0" transform="translate(-55.3,315.1) rotate(37.5)" font-family="Liberation Serif" font-size="29.5" letter-spacing="1.5">ПодшипникРу</text>
<text x="0" y="0" transform="translate(165.4,315.1) rotate(37.5)" font-family="Liberation Serif" font-size="29.5" letter-spacing="1.5">ПодшипникРу</text>
<text x="0" y="0" transform="translate(386.1,315.1) rotate(37.5)" font-family="Liberation Serif" font-size="29.5" letter-spacing="1.5">ПодшипникРу</text>
<text x="0" y="0" transform="translate(606.8,315.1) rotate(37.5)" font-family="Liberation Serif" font-size="29.5" letter-spacing="1.5">ПодшипникРу</text>
<text x="0" y="0" transform="translate(54.4,545.1) rotate(37.5)" font-family="Liberation Serif" font-size="29.5" letter-spacing="1.5">ПодшипникРу</text>
<text x="0" y="0" transform="translate(275.1,545.1) rotate(37.5)" font-family="Liberation Serif" font-size="29.5" letter-spacing="1.5">ПодшипникРу</text>
<text x="0" y="0" transform="translate(495.8,545.1) rotate(37.5)" font-family="Liberation Serif" font-size="29.5" letter-spacing="1.5">ПодшипникРу</text>
</g>
</svg></body></html>
